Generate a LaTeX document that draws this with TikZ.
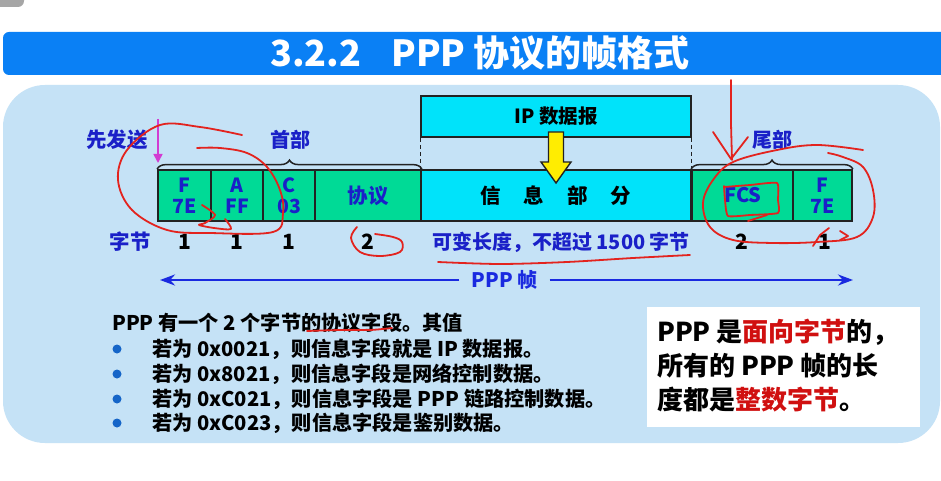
\documentclass[tikz,border=0pt]{standalone}
\usepackage{fontspec}
\setmainfont{Noto Sans CJK SC}
\usetikzlibrary{decorations.pathreplacing,arrows.meta}

\definecolor{titleblue}{HTML}{0A80F5}
\definecolor{panelblue}{HTML}{C5E2F6}
\definecolor{fieldgreen}{HTML}{00DA96}
\definecolor{infocyan}{HTML}{00E3FA}
\definecolor{labelblue}{HTML}{1A20C8}
\definecolor{arrowblue}{HTML}{1A2AE0}
\definecolor{bulletblue}{HTML}{1565C8}
\definecolor{sendpink}{HTML}{D23CD2}
\definecolor{penred}{HTML}{E3231E}
\definecolor{keyred}{HTML}{D01010}
\definecolor{edgegray}{HTML}{222222}

\newcommand{\fsz}[1]{\fontsize{#1}{#1}\selectfont\bfseries}

\tikzset{
  fieldbox/.style={draw=edgegray, line width=1.8pt, minimum height=51pt,
    inner sep=0pt, align=center, text=labelblue,
    font=\fontsize{19.5}{21}\selectfont\bfseries},
  greenbox/.style={fieldbox, fill=fieldgreen},
  cyanbox/.style={fieldbox, fill=infocyan},
  bluelabel/.style={text=labelblue, inner sep=0pt, font=\fsz{20}},
  countlabel/.style={text=black, inner sep=0pt, font=\fsz{21}},
  bodytext/.style={anchor=west, inner sep=0pt, text=black, font=\fsz{20.2}},
  notetext/.style={anchor=west, inner sep=0pt, text=black, font=\fsz{26}},
  bulletdot/.style={circle, fill=bulletblue, inner sep=0pt, minimum size=9pt},
  bracket/.style={draw=edgegray, line width=1.5pt,
    decorate, decoration={brace, amplitude=9pt}},
  guide/.style={draw=edgegray, line width=1pt, dash pattern=on 4pt off 3pt},
  pen/.style={draw=penred, line width=1.8pt, line cap=round, line join=round},
}

\begin{document}
\begin{tikzpicture}[x=1pt, y=-1pt]
\useasboundingbox (0,0) rectangle (941,481);
\fill[white] (0,0) rectangle (941,481);

% small grey tab in the upper left corner
\fill[gray!70, rounded corners=6pt] (-10,-10) rectangle (24,7);

% title bar
\fill[titleblue, rounded corners=6pt] (3,32) rectangle (960,75);
\node[text=white, font=\fsz{36}] (title) at (480,53) {3.2.2\hspace{30pt}PPP 协议的帧格式};

% light panel
\fill[panelblue, rounded corners=42pt] (3,85) rectangle (940,443);

% IP datagram above the frame
\node[cyanbox, minimum width=270pt, minimum height=41pt, text=black, font=\fsz{19.5}]
  (ip) at (556,116.5) {IP 数据报};

% the PPP frame fields
\node[greenbox, minimum width=53pt]  (flag1) at (184.5,195.5) {F\\7E};
\node[greenbox, minimum width=52pt]  (addr)  at (237,195.5)   {A\\FF};
\node[greenbox, minimum width=52pt]  (ctrl)  at (289,195.5)   {C\\03};
\node[greenbox, minimum width=106pt, font=\fsz{20.5}] (proto) at (368,195.5) {协议};
\node[cyanbox,  minimum width=270pt, text=black, font=\fsz{20.5}]
  (info) at (556,195.5) {信\hspace{23pt}息\hspace{23pt}部\hspace{23pt}分};
\node[greenbox, minimum width=102pt, font=\fsz{20}] (fcs) at (743,195.5) {FCS};
\node[greenbox, minimum width=59pt]  (flag2) at (822.5,195.5) {F\\7E};

% dashed guides from the datagram down to the information field
\draw[guide] (ip.south west) -- (info.north west);
\draw[guide] (ip.south east) -- (info.north east);

% yellow arrow: the datagram goes into the information field
\draw[fill=yellow!95!orange, draw=edgegray, line width=1.4pt, line join=miter]
  (548.5,132) -- (563.5,132) -- (563.5,162) -- (571,162) -- (556,183)
  -- (541,162) -- (548.5,162) -- cycle;

% header and trailer braces
\draw[bracket] (flag1.north west) -- (proto.north east);
\draw[bracket] (fcs.north west) -- (flag2.north east);
\node[bluelabel] (head) at (290,140) {首部};
\node[bluelabel] (tail) at (772,140) {尾部};

% sent first
\node[bluelabel, font=\fsz{20.5}] (first) at (117,140) {先发送};
\coordinate (sendtop) at (158,119);
\coordinate (sendtip) at (158,163);
\draw[sendpink, line width=1.6pt, -{Triangle[length=9pt,width=9pt]}] (sendtop) -- (sendtip);

% byte counts
\node[bluelabel, font=\fsz{20.5}] (bytes) at (130,242) {字节};
\node[countlabel] (n1) at (184.5,242) {1};
\node[countlabel] (n2) at (237,242) {1};
\node[countlabel] (n3) at (289,242) {1};
\node[countlabel] (n4) at (368,242) {2};
\node[bluelabel] (nvar) at (561,242) {可变长度，不超过 1500 字节};
\node[countlabel] (n6) at (742,242) {2};
\node[countlabel] (n7) at (825,242) {1};

% extent of the whole frame
\node[text=arrowblue, font=\fsz{20}, inner xsep=12pt, inner ysep=0pt] (frame) at (504.5,280) {PPP 帧};
\coordinate (frameL) at (160,280);
\coordinate (frameR) at (853,280);
\draw[arrowblue, line width=2.5pt, -{Stealth[length=15pt,width=11pt]}] (frame.west) -- (frameL);
\draw[arrowblue, line width=2.5pt, -{Stealth[length=15pt,width=11pt]}] (frame.east) -- (frameR);

% protocol field values
\node[bodytext] (lead) at (112,323) {PPP 有一个 2 个字节的协议字段。其值};
\node[bulletdot] (b1) at (117,349) {};
\node[bulletdot] (b2) at (117,374) {};
\node[bulletdot] (b3) at (117,399) {};
\node[bulletdot] (b4) at (117,423) {};
\node[bodytext] (v1) at (152,349) {若为 0x0021，则信息字段就是 IP 数据报。};
\node[bodytext] (v2) at (152,374) {若为 0x8021，则信息字段是网络控制数据。};
\node[bodytext] (v3) at (152,399) {若为 0xC021，则信息字段是 PPP 链路控制数据。};
\node[bodytext] (v4) at (152,423) {若为 0xC023，则信息字段是鉴别数据。};

% note box
\node[fill=white, minimum width=273pt, minimum height=120pt, inner sep=0pt] (notebox) at (783.5,367) {};
\node[notetext] (note1) at (657,332) {PPP 是\textcolor{keyred}{面向字节}的，};
\node[notetext] (note2) at (657,366) {所有的 PPP 帧的长};
\node[notetext] (note3) at (657,400) {度都是\textcolor{keyred}{整数字节}。};

% hand-drawn red pen marks
\draw[pen] plot[smooth, tension=0.6] coordinates {(242,135) (200,127) (160,125) (127,150) (118,180) (132,210) (167,230) (210,233) (273,232) (283,213) (280,190) (267,167) (247,153) (220,148) (197,148)};
\draw[pen] plot[smooth, tension=0.5] coordinates {(202,205) (215,215) (205,223) (199,225) (214,228) (231,229) (225,219)};
\draw[pen] plot[smooth, tension=0.6] coordinates {(357,227) (351,238) (360,252) (380,256) (400,252) (402,242) (393,237) (375,234)};
\draw[pen] plot[smooth, tension=0.5] coordinates {(438,262) (500,264) (567,262) (633,258) (690,255)};
\draw[pen] (731,80) -- (731,124) -- (732,160);
\draw[pen] (713,132) -- (731,159) -- (748,137);
\draw[pen] plot[smooth, tension=0.3] coordinates {(724,187) (750,185) (777,183) (778,200) (778,213) (750,215) (728,216) (725,200) (724,186)};
\draw[pen] (748,221) -- (767,215);
\draw[pen] plot[smooth, tension=0.6] coordinates {(863,150) (817,145) (777,150) (733,162) (713,180) (703,203) (710,227) (733,240) (773,243) (817,242) (857,237) (873,217) (873,190) (863,167) (843,157) (828,153)};
\draw[pen] (813,246) -- (820,235) -- (829,228);
\draw[pen] (840,231) -- (848,236) -- (840,240);
\draw[pen] plot[smooth, tension=0.5] coordinates {(307,331) (340,330) (370,330) (392,328)};
\end{tikzpicture}
\end{document}
